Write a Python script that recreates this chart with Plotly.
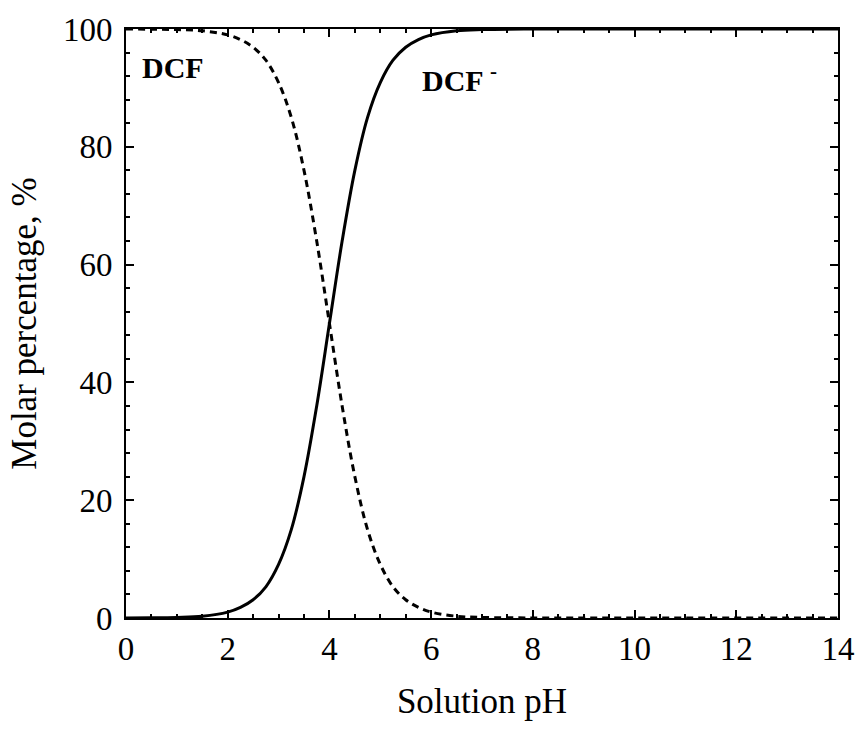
import plotly.graph_objects as go

# Speciation of diclofenac versus solution pH (percent of each form)
ph = [0, 0.5, 1, 1.5, 2, 2.25, 2.5, 2.75, 3, 3.25, 3.5, 3.75, 4, 4.25, 4.5,
      4.75, 5, 5.25, 5.5, 5.75, 6, 6.5, 7, 8, 9, 10, 11, 12, 13, 14]
dcf_neutral = [99.99, 99.97, 99.9, 99.7, 99.0, 98.2, 96.9, 94.7, 90.9, 85.0,
               76.0, 64.0, 50.0, 36.0, 24.0, 15.0, 9.1, 5.3, 3.1, 1.8, 1.0,
               0.3, 0.1, 0.01, 0, 0, 0, 0, 0, 0]
dcf_anion = [0.01, 0.03, 0.1, 0.3, 1.0, 1.8, 3.1, 5.3, 9.1, 15.0, 24.0, 36.0,
             50.0, 64.0, 76.0, 85.0, 90.9, 94.7, 96.9, 98.2, 99.0, 99.7, 99.9,
             99.99, 100, 100, 100, 100, 100, 100]

x_ticks = [0, 2, 4, 6, 8, 10, 12, 14]
y_ticks = [0, 20, 40, 60, 80, 100]

FONT = "Liberation Serif, Times New Roman, serif"

fig = go.Figure()
fig.add_trace(go.Scatter(
    x=ph, y=dcf_neutral, mode="lines", name="DCF",
    line=dict(color="black", width=3, dash="7px,5px", shape="spline"),
))
fig.add_trace(go.Scatter(
    x=ph, y=dcf_anion, mode="lines", name="DCF-",
    line=dict(color="black", width=3, shape="spline"),
))

fig.add_annotation(x=0.92, y=93.4, text="<b>DCF</b>", showarrow=False,
                   xanchor="center", yanchor="middle",
                   font=dict(family=FONT, size=30, color="black"))
fig.add_annotation(x=5.79, y=91.7, text="<b>DCF <sup>-</sup></b>", showarrow=False,
                   xanchor="left", yanchor="middle",
                   font=dict(family=FONT, size=30, color="black"))

axis_common = dict(
    showgrid=False, zeroline=False, showline=True, linecolor="black",
    linewidth=2, mirror="ticks", ticks="inside", ticklen=8, tickwidth=1.5,
    tickcolor="black", tickfont=dict(family=FONT, size=33, color="black"),
)

fig.update_xaxes(
    range=[0, 14], tickvals=x_ticks, ticktext=[str(v) for v in x_ticks],
    minor=dict(dtick=0.5, ticks="inside", ticklen=4, tickwidth=1.5, tickcolor="black"),
    title=dict(text="Solution pH", font=dict(family=FONT, size=35, color="black"),
               standoff=23),
    **axis_common,
)
fig.update_yaxes(
    range=[0, 100], tickvals=y_ticks, ticktext=[str(v) for v in y_ticks],
    minor=dict(dtick=4, ticks="inside", ticklen=4, tickwidth=1.5, tickcolor="black"),
    ticklabelstandoff=5,
    title=dict(text="Molar percentage, %", font=dict(family=FONT, size=35, color="black"),
               standoff=16),
    **axis_common,
)

fig.update_layout(
    width=867, height=730, showlegend=False,
    paper_bgcolor="white", plot_bgcolor="white",
    margin=dict(l=126, r=25, t=26, b=112),
)

fig.write_html("out.html")
